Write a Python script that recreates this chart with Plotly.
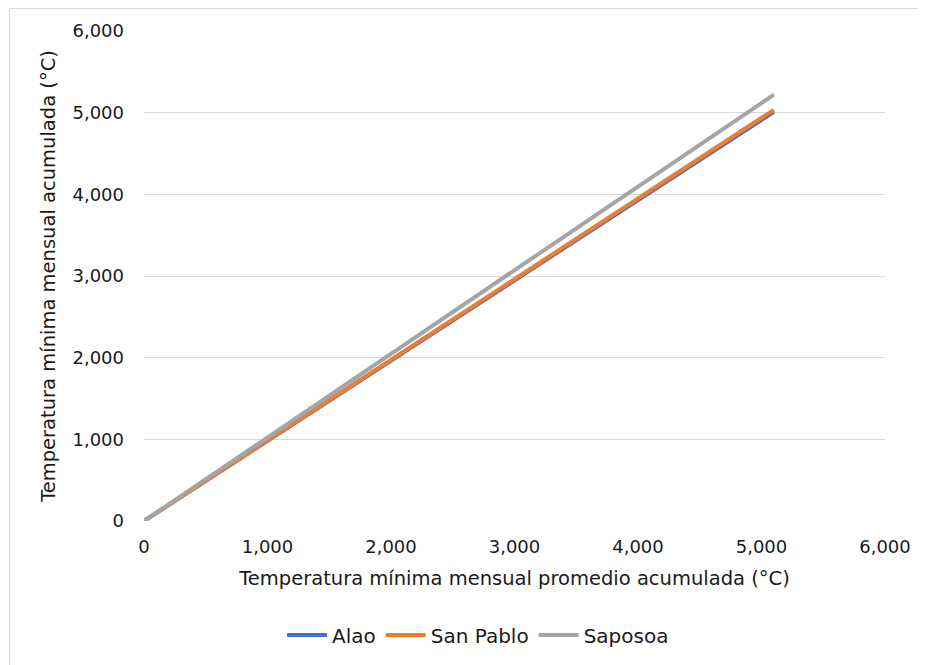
import plotly.graph_objects as go

series_names = ["Alao", "San Pablo", "Saposoa"]
x_values = [0, 5100]
alao_y = [0, 5010]
san_pablo_y = [0, 5035]
saposoa_y = [0, 5220]
tick_vals = [0, 1000, 2000, 3000, 4000, 5000, 6000]
tick_text = ["0", "1,000", "2,000", "3,000", "4,000", "5,000", "6,000"]

colors = ["#4472C4", "#ED7D31", "#A5A5A5"]
ys = [alao_y, san_pablo_y, saposoa_y]

fig = go.Figure()
for name, y, c in zip(series_names, ys, colors):
    fig.add_trace(go.Scatter(x=x_values, y=y, mode="lines", name=name,
                             line=dict(color=c, width=4)))

font_family = "DejaVu Sans, Verdana, sans-serif"
OFF = 8  # page body margin
# target plot area in screen pixels
SL, SR, ST, SB = 144, 885, 31, 521
W, H = 926, 665
L = SL - OFF
T = ST - OFF
pw, ph = SR - SL, SB - ST
R = W - L - pw
B = H - T - ph

def px_x(p):
    return (p - SL) / pw

def px_y(p):
    return 1 - (p - ST) / ph

fs = 18
tfs = 19.5
fig.update_layout(
    width=W, height=H,
    margin=dict(l=L, r=R, t=T, b=B, autoexpand=False),
    paper_bgcolor="white", plot_bgcolor="white",
    font=dict(family=font_family, size=fs, color="#1a1a1a"),
    showlegend=True,
    legend=dict(orientation="h", x=px_x(478), xanchor="center", y=px_y(635), yanchor="middle",
                font=dict(size=20), itemwidth=40, tracegroupgap=0),
    xaxis=dict(range=[0, 6000], tickvals=tick_vals, ticktext=tick_text,
               showgrid=False, zeroline=False, showline=False, ticks="",
               tickfont=dict(size=fs), ticklabelstandoff=13,
               title=dict(text="Temperatura mínima mensual promedio acumulada (°C)",
                          font=dict(size=tfs), standoff=15)),
    yaxis=dict(range=[0, 6000], tickvals=tick_vals, ticktext=tick_text,
               showgrid=True, gridcolor="#D9D9D9", gridwidth=1,
               zeroline=False, showline=False, ticks="",
               tickfont=dict(size=fs), ticklabelstandoff=19,
               title=dict(text="Temperatura mínima mensual acumulada (°C)",
                          font=dict(size=tfs), standoff=11)),
)

# chart frame (left and top border)
bx = px_x(9.5)
by = px_y(8.5)
fig.add_shape(type="line", xref="paper", yref="paper", x0=bx, x1=bx, y0=px_y(680), y1=by,
              line=dict(color="#D9D9D9", width=1))
fig.add_shape(type="line", xref="paper", yref="paper", x0=bx, x1=px_x(940), y0=by, y1=by,
              line=dict(color="#D9D9D9", width=1))

fig.write_html("out.html")
